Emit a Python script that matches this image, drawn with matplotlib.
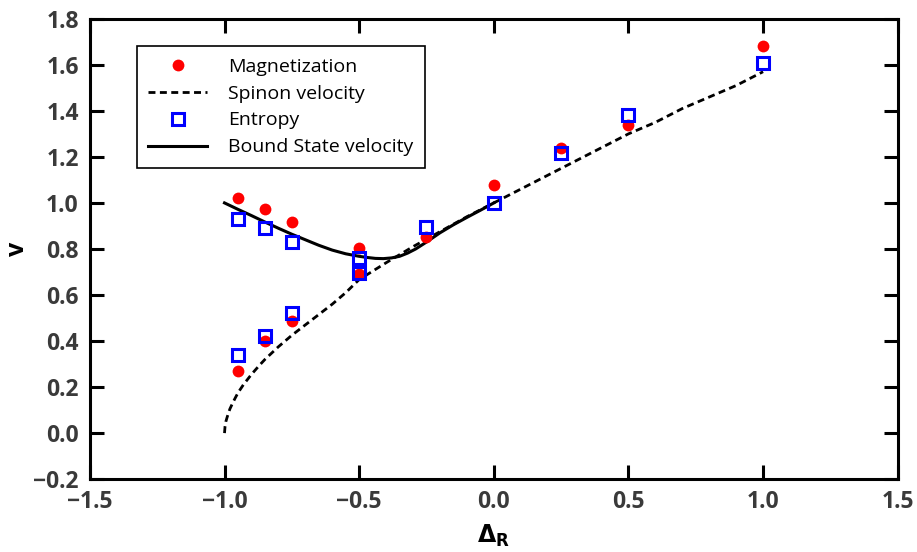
import numpy as np
import matplotlib
matplotlib.use("Agg")
from matplotlib import pyplot as plt

plt.rcParams['font.family'] = ['Open Sans', 'DejaVu Sans']

# measured points
mag_x = [-0.95, -0.85, -0.75, -0.5, -0.95, -0.85, -0.75, -0.5, -0.25, 0.0, 0.25, 0.5, 1.0]
mag_y = [1.02, 0.975, 0.915, 0.805, 0.27, 0.40, 0.485, 0.69, 0.85, 1.08, 1.24, 1.34, 1.68]

ent_x = [-0.95, -0.85, -0.75, -0.5, -0.95, -0.85, -0.75, -0.5, -0.25, 0.0, 0.25, 0.5, 1.0]
ent_y = [0.93, 0.89, 0.83, 0.76, 0.34, 0.42, 0.52, 0.695, 0.895, 1.0, 1.215, 1.38, 1.61]

# spinon velocity curve
spin_x = [-1.0, -0.998, -0.995, -0.99, -0.985, -0.98, -0.97, -0.96, -0.95, -0.93, -0.9, -0.87,
          -0.85, -0.8, -0.75, -0.7, -0.65, -0.6, -0.55, -0.5, -0.4, -0.3, -0.2, -0.1, 0.0,
          0.1, 0.2, 0.3, 0.4, 0.5, 0.6, 0.7, 0.8, 0.9, 0.95, 1.0]
spin_y = [0.0, 0.03, 0.05, 0.07, 0.088, 0.105, 0.13, 0.153, 0.175, 0.21, 0.255, 0.295,
          0.32, 0.375, 0.425, 0.47, 0.515, 0.56, 0.61, 0.667, 0.74, 0.81, 0.875, 0.94, 1.0,
          1.06, 1.12, 1.18, 1.24, 1.30, 1.35, 1.41, 1.46, 1.51, 1.54, 1.57]

# bound state velocity curve
bound_x = [-1.0, -0.95, -0.9, -0.85, -0.8, -0.75, -0.7, -0.65, -0.6, -0.55, -0.5, -0.47,
           -0.44, -0.41, -0.38, -0.35, -0.32, -0.29, -0.25, -0.2, -0.15, -0.1, -0.05, 0.0]
bound_y = [1.0, 0.972, 0.945, 0.917, 0.89, 0.864, 0.84, 0.816, 0.795, 0.779, 0.768, 0.763,
           0.759, 0.758, 0.761, 0.768, 0.782, 0.80, 0.83, 0.87, 0.905, 0.937, 0.968, 1.0]

fig = plt.figure(figsize=(9.17, 5.52), dpi=100)
ax = fig.add_axes([0.098, 0.132, 0.881, 0.834])

ax.plot(mag_x, mag_y, 'o', color='red', markersize=8.5, markeredgewidth=0, label='Magnetization', zorder=3)
ax.plot(spin_x, spin_y, color='black', lw=2.0, dashes=(2.5, 1.6), label='Spinon velocity', zorder=2)
ax.plot(ent_x, ent_y, 's', color='blue', markersize=8.5, markeredgewidth=2.2, fillstyle='none',
        label='Entropy', zorder=4)
ax.plot(bound_x, bound_y, color='black', lw=2.2, label='Bound State velocity', zorder=2)

ax.set_xlim(-1.5, 1.5)
ax.set_ylim(-0.2, 1.8)
ax.set_xticks(np.arange(-1.5, 1.51, 0.5))
ax.set_yticks(np.arange(-0.2, 1.81, 0.2))
ax.set_xticklabels(['\u22121.5', '\u22121.0', '\u22120.5', '0.0', '0.5', '1.0', '1.5'])
ax.set_yticklabels(['\u22120.2', '0.0', '0.2', '0.4', '0.6', '0.8', '1.0', '1.2', '1.4', '1.6', '1.8'])

for s in ax.spines.values():
    s.set_linewidth(2.2)
ax.tick_params(direction='in', length=10, width=2.2, top=True, right=True,
               labelsize=16.5, labelcolor='#3a3a3a', pad=8)
for lab in ax.get_xticklabels() + ax.get_yticklabels():
    lab.set_fontweight('bold')

ax.set_xlabel(r'$\mathbf{\Delta_R}$', fontsize=17, labelpad=6)
ax.set_ylabel('v', fontsize=18, fontweight='bold', labelpad=2)

leg = ax.legend(loc='upper left', bbox_to_anchor=(0.058, 0.941), borderaxespad=0,
                fontsize=14, fancybox=False, edgecolor='black', framealpha=1,
                handlelength=3.0, handletextpad=1.1, labelspacing=0.46, borderpad=0.6)
leg.get_frame().set_linewidth(1.2)

fig.savefig('out.png', dpi=100)
